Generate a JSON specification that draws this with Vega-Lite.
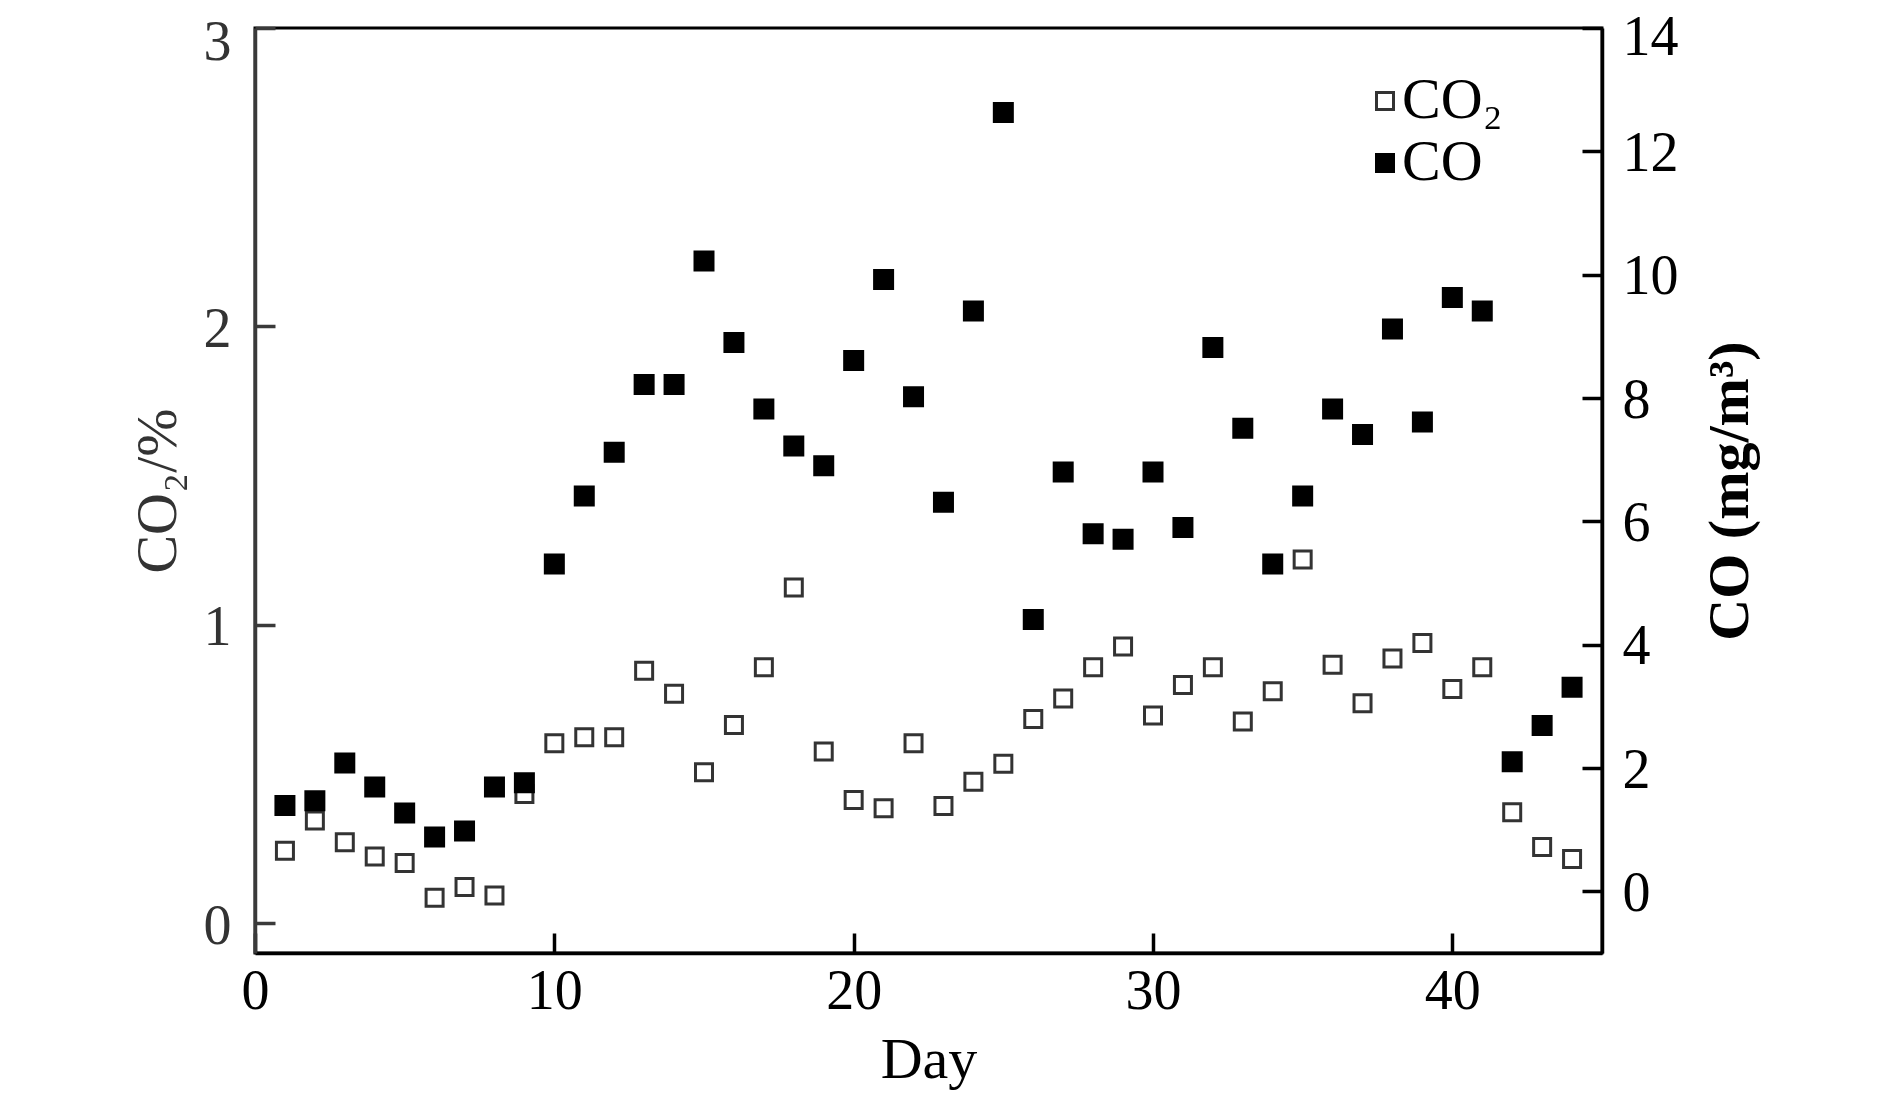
{
  "$schema": "https://vega.github.io/schema/vega-lite/v6.json",
  "description": "CO2 and CO concentration by day, two y axes",
  "autosize": {"type": "none"},
  "padding": {"left": 255, "top": 28, "right": 288, "bottom": 157},
  "width": 1347,
  "height": 925,
  "background": "white",
  "config": {
    "font": "Liberation Serif",
    "view": {"stroke": "black", "strokeWidth": 3},
    "axis": {
      "grid": false,
      "labelFont": "Liberation Serif",
      "titleFont": "Liberation Serif",
      "labelFontSize": 56,
      "titleFontSize": 58,
      "titleFontWeight": "normal",
      "labelColor": "black",
      "titleColor": "black",
      "domainColor": "black",
      "tickColor": "black",
      "domainWidth": 3.5,
      "tickWidth": 3.5,
      "tickSize": -20,
      "labelFlush": false,
      "labelBound": false,
      "labelOverlap": false
    },
    "legend": {
      "orient": "none",
      "legendX": 1101,
      "legendY": 44,
      "symbolType": "square",
      "symbolSize": 289,
      "symbolStrokeWidth": 3,
      "labelFont": "Liberation Serif",
      "labelFontSize": 58,
      "labelColor": "black",
      "labelOffset": -12,
      "rowPadding": 4
    }
  },
  "data": {
    "values": [
      {"Day": 1, "Gas": "CO₂", "Value": 0.243}, {"Day": 2, "Gas": "CO₂", "Value": 0.344},
      {"Day": 3, "Gas": "CO₂", "Value": 0.271}, {"Day": 4, "Gas": "CO₂", "Value": 0.223},
      {"Day": 5, "Gas": "CO₂", "Value": 0.202}, {"Day": 6, "Gas": "CO₂", "Value": 0.085},
      {"Day": 7, "Gas": "CO₂", "Value": 0.121}, {"Day": 8, "Gas": "CO₂", "Value": 0.093},
      {"Day": 9, "Gas": "CO₂", "Value": 0.433}, {"Day": 10, "Gas": "CO₂", "Value": 0.603},
      {"Day": 11, "Gas": "CO₂", "Value": 0.623}, {"Day": 12, "Gas": "CO₂", "Value": 0.623},
      {"Day": 13, "Gas": "CO₂", "Value": 0.846}, {"Day": 14, "Gas": "CO₂", "Value": 0.769},
      {"Day": 15, "Gas": "CO₂", "Value": 0.506}, {"Day": 16, "Gas": "CO₂", "Value": 0.664},
      {"Day": 17, "Gas": "CO₂", "Value": 0.858}, {"Day": 18, "Gas": "CO₂", "Value": 1.125},
      {"Day": 19, "Gas": "CO₂", "Value": 0.575}, {"Day": 20, "Gas": "CO₂", "Value": 0.413},
      {"Day": 21, "Gas": "CO₂", "Value": 0.385}, {"Day": 22, "Gas": "CO₂", "Value": 0.603},
      {"Day": 23, "Gas": "CO₂", "Value": 0.393}, {"Day": 24, "Gas": "CO₂", "Value": 0.474},
      {"Day": 25, "Gas": "CO₂", "Value": 0.534}, {"Day": 26, "Gas": "CO₂", "Value": 0.684},
      {"Day": 27, "Gas": "CO₂", "Value": 0.753}, {"Day": 28, "Gas": "CO₂", "Value": 0.858},
      {"Day": 29, "Gas": "CO₂", "Value": 0.927}, {"Day": 30, "Gas": "CO₂", "Value": 0.696},
      {"Day": 31, "Gas": "CO₂", "Value": 0.798}, {"Day": 32, "Gas": "CO₂", "Value": 0.858},
      {"Day": 33, "Gas": "CO₂", "Value": 0.676}, {"Day": 34, "Gas": "CO₂", "Value": 0.777},
      {"Day": 35, "Gas": "CO₂", "Value": 1.219}, {"Day": 36, "Gas": "CO₂", "Value": 0.866},
      {"Day": 37, "Gas": "CO₂", "Value": 0.737}, {"Day": 38, "Gas": "CO₂", "Value": 0.887},
      {"Day": 39, "Gas": "CO₂", "Value": 0.939}, {"Day": 40, "Gas": "CO₂", "Value": 0.785},
      {"Day": 41, "Gas": "CO₂", "Value": 0.858}, {"Day": 42, "Gas": "CO₂", "Value": 0.372},
      {"Day": 43, "Gas": "CO₂", "Value": 0.255}, {"Day": 44, "Gas": "CO₂", "Value": 0.215},
      {"Day": 1, "Gas": "CO", "Value": 1.39}, {"Day": 2, "Gas": "CO", "Value": 1.47},
      {"Day": 3, "Gas": "CO", "Value": 2.08}, {"Day": 4, "Gas": "CO", "Value": 1.69},
      {"Day": 5, "Gas": "CO", "Value": 1.27}, {"Day": 6, "Gas": "CO", "Value": 0.88},
      {"Day": 7, "Gas": "CO", "Value": 0.98}, {"Day": 8, "Gas": "CO", "Value": 1.69},
      {"Day": 9, "Gas": "CO", "Value": 1.76}, {"Day": 10, "Gas": "CO", "Value": 5.31},
      {"Day": 11, "Gas": "CO", "Value": 6.41}, {"Day": 12, "Gas": "CO", "Value": 7.12},
      {"Day": 13, "Gas": "CO", "Value": 8.22}, {"Day": 14, "Gas": "CO", "Value": 8.22},
      {"Day": 15, "Gas": "CO", "Value": 10.22}, {"Day": 16, "Gas": "CO", "Value": 8.9},
      {"Day": 17, "Gas": "CO", "Value": 7.82}, {"Day": 18, "Gas": "CO", "Value": 7.22},
      {"Day": 19, "Gas": "CO", "Value": 6.9}, {"Day": 20, "Gas": "CO", "Value": 8.61},
      {"Day": 21, "Gas": "CO", "Value": 9.92}, {"Day": 22, "Gas": "CO", "Value": 8.02},
      {"Day": 23, "Gas": "CO", "Value": 6.31}, {"Day": 24, "Gas": "CO", "Value": 9.41},
      {"Day": 25, "Gas": "CO", "Value": 12.63}, {"Day": 26, "Gas": "CO", "Value": 4.41},
      {"Day": 27, "Gas": "CO", "Value": 6.8}, {"Day": 28, "Gas": "CO", "Value": 5.8},
      {"Day": 29, "Gas": "CO", "Value": 5.71}, {"Day": 30, "Gas": "CO", "Value": 6.8},
      {"Day": 31, "Gas": "CO", "Value": 5.9}, {"Day": 32, "Gas": "CO", "Value": 8.82},
      {"Day": 33, "Gas": "CO", "Value": 7.51}, {"Day": 34, "Gas": "CO", "Value": 5.31},
      {"Day": 35, "Gas": "CO", "Value": 6.41}, {"Day": 36, "Gas": "CO", "Value": 7.82},
      {"Day": 37, "Gas": "CO", "Value": 7.41}, {"Day": 38, "Gas": "CO", "Value": 9.12},
      {"Day": 39, "Gas": "CO", "Value": 7.61}, {"Day": 40, "Gas": "CO", "Value": 9.63},
      {"Day": 41, "Gas": "CO", "Value": 9.41}, {"Day": 42, "Gas": "CO", "Value": 2.1},
      {"Day": 43, "Gas": "CO", "Value": 2.69}, {"Day": 44, "Gas": "CO", "Value": 3.31}
    ]
  },
  "encoding": {
    "x": {
      "field": "Day",
      "type": "quantitative",
      "scale": {"domain": [0, 45], "nice": false},
      "axis": {"values": [0, 10, 20, 30, 40], "title": "Day", "labelPadding": 31, "titlePadding": 12}
    },
    "fill": {
      "field": "Gas",
      "type": "nominal",
      "scale": {"domain": ["CO₂", "CO"], "range": ["white", "black"]},
      "legend": {"title": null}
    },
    "stroke": {
      "field": "Gas",
      "type": "nominal",
      "scale": {"domain": ["CO₂", "CO"], "range": ["#333333", "black"]},
      "legend": {"title": null}
    }
  },
  "layer": [
    {
      "transform": [{"filter": "datum.Gas === 'CO₂'"}],
      "mark": {"type": "square", "size": 289, "strokeWidth": 3, "opacity": 1},
      "encoding": {
        "y": {
          "field": "Value",
          "type": "quantitative",
          "scale": {"domain": [-0.1, 3], "nice": false, "zero": false},
          "axis": {
            "orient": "left",
            "values": [0, 1, 2, 3],
            "title": "CO₂/%",
            "labelPadding": 44,
            "labelOffset": {"condition": {"test": "datum.value === 3", "value": 14}, "value": 3},
            "titlePadding": 16,
            "labelColor": "#333333",
            "titleColor": "#333333",
            "domainColor": "#3a3a3a",
            "tickColor": "#3a3a3a"
          }
        }
      }
    },
    {
      "transform": [{"filter": "datum.Gas === 'CO'"}],
      "mark": {"type": "square", "size": 324, "strokeWidth": 3, "opacity": 1},
      "encoding": {
        "y": {
          "field": "Value",
          "type": "quantitative",
          "scale": {"domain": [-1, 14], "nice": false, "zero": false},
          "axis": {
            "orient": "right",
            "values": [0, 2, 4, 6, 8, 10, 12, 14],
            "title": "CO (mg/m³)",
            "titleAngle": 270,
            "titleFontWeight": "bold",
            "labelPadding": 40,
            "labelOffset": {"condition": {"test": "datum.value === 14", "value": 9}, "value": 2},
            "titlePadding": 81
          }
        }
      }
    }
  ],
  "resolve": {"scale": {"y": "independent"}}
}
